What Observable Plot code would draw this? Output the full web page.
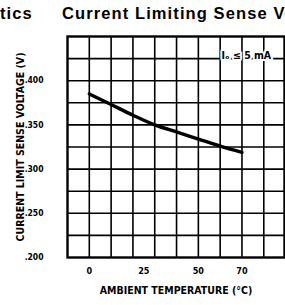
<!DOCTYPE html>
<html><head><meta charset="utf-8">
<script src="https://cdn.jsdelivr.net/npm/d3@7"></script>
<script src="https://cdn.jsdelivr.net/npm/@observablehq/plot@0.6"></script>
<style>
html,body{margin:0;padding:0;background:#fff;overflow:hidden;}
#wrap{position:relative;width:285px;height:305px;overflow:hidden;}
.ttl{position:absolute;top:4px;font:bold 16.5px "Liberation Sans",Arial,sans-serif;letter-spacing:1.1px;color:#000;white-space:nowrap;}
svg text{font-family:"DejaVu Sans Condensed","Liberation Sans Narrow","Liberation Sans",sans-serif;font-weight:bold;}
</style></head>
<body><div id="wrap"></div>
<script>
const titleLeft = "tics";
const titleMain = "Current Limiting Sense Voltage";
const temps = [0, 10, 20, 30, 40, 50, 60, 70];
const volts = [0.385, 0.373, 0.361, 0.350, 0.342, 0.334, 0.326, 0.319];
const xTicks = [0, 25, 50, 70];
const yTicks = [0.200, 0.250, 0.300, 0.350, 0.400];
const yTickLabels = [".200", ".250", ".300", ".350", ".400"];
const xGrid = [0, 10, 20, 30, 40, 50, 60, 70, 80];
const yGrid = [0.225, 0.250, 0.275, 0.300, 0.325, 0.350, 0.375, 0.400, 0.425];
const xTitle = "AMBIENT TEMPERATURE (°C)";
const yTitle = "CURRENT LIMIT SENSE VOLTAGE (V)";
const noteText = ["I\u2092 \u2264 5 mA"];
const noteX = [72];
const noteY = [0.4285];

const data = temps.map((t, i) => ({t, v: volts[i]}));

const chart = Plot.plot({
  width: 285, height: 305,
  marginLeft: 67, marginRight: 1, marginTop: 36, marginBottom: 48,
  style: {background: "#fff", color: "#000"},
  x: {domain: [-10, 89.5], label: null},
  y: {domain: [0.2, 0.45], label: null},
  marks: [
    Plot.ruleX(xGrid, {stroke: "#000", strokeWidth: 1.6}),
    Plot.ruleY(yGrid, {stroke: "#000", strokeWidth: 1.6}),
    Plot.frame({stroke: "#000", strokeWidth: 2.4}),
    Plot.line(data, {x: "t", y: "v", stroke: "#000", strokeWidth: 3.4, curve: "catmull-rom"}),
    Plot.text(noteText, {x: noteX, y: noteY, text: d => d, fontSize: 10.5, fontWeight: "bold", stroke: "#fff", strokeWidth: 4, fill: "#000", textAnchor: "middle"}),
    Plot.axisX(xTicks, {tickSize: 0, tickPadding: 10, fontSize: 9, tickFormat: d => String(d)}),
    Plot.axisY(yTicks, {tickSize: 0, tickPadding: 24, fontSize: 8.5, tickFormat: d => yTickLabels[yTicks.indexOf(d)]}),
    Plot.text([xTitle], {frameAnchor: "bottom", dy: 36, fontSize: 10.5, fontWeight: "bold", text: d => d}),
    Plot.text([yTitle], {frameAnchor: "left", textAnchor: "middle", dx: -47, rotate: -90, fontSize: 10.5, fontWeight: "bold", text: d => d})
  ]
});
const wrap = document.getElementById("wrap");
wrap.appendChild(chart);
const t1 = document.createElement("div"); t1.className = "ttl"; t1.style.left = "0px"; t1.textContent = titleLeft; wrap.appendChild(t1);
const t2 = document.createElement("div"); t2.className = "ttl"; t2.style.left = "62px"; t2.textContent = titleMain; wrap.appendChild(t2);
</script></body></html>
